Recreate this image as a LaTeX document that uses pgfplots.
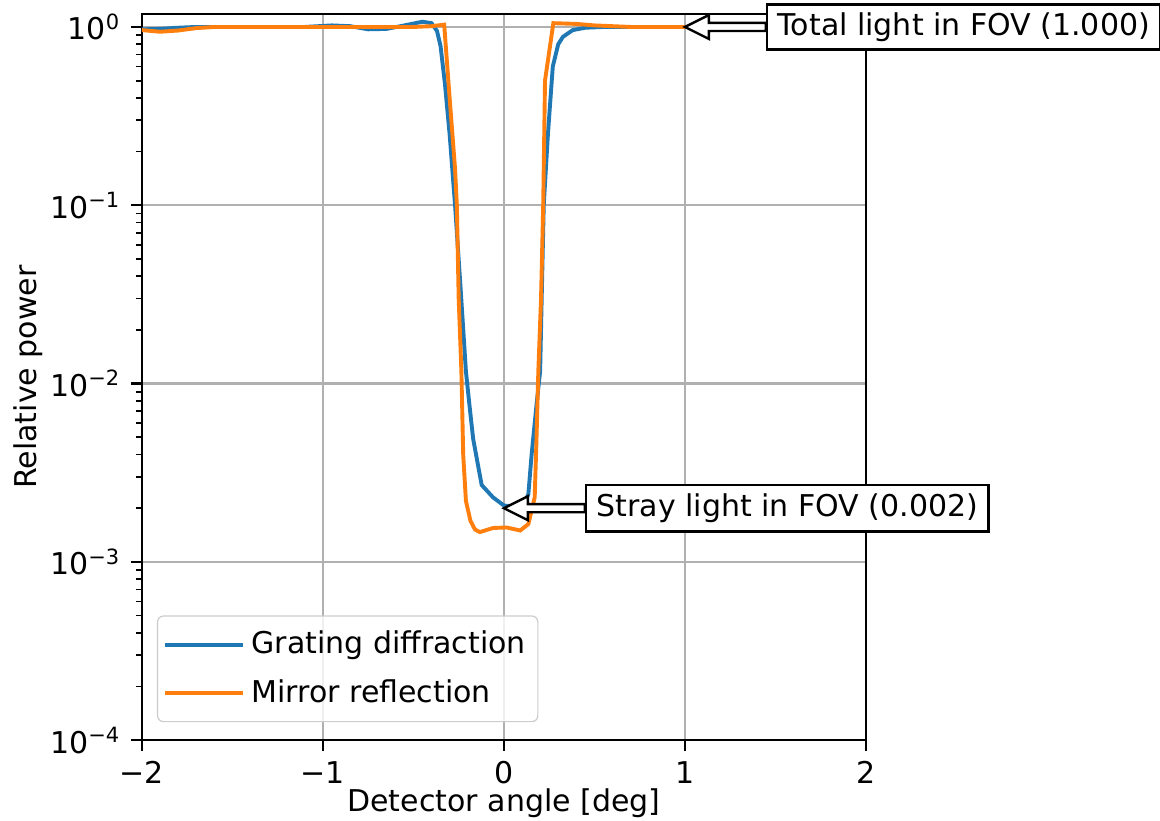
\documentclass[border=0pt]{standalone}
\usepackage{fontspec}
\setmainfont{DejaVu Sans}
\usepackage{pgfplots}
\pgfplotsset{compat=1.18}

\definecolor{mplblue}{HTML}{1F77B4}
\definecolor{mplorange}{HTML}{FF7F0E}
\definecolor{mplgrid}{HTML}{B0B0B0}
\definecolor{legedge}{HTML}{CCCCCC}

% white arrow with black outline, tip at #1, pointing left
\newcommand{\fovarrow}[1]{%
  \draw[fill=white, line width=0.8pt, line join=miter]
    (#1) -- ++(8pt,4pt) -- ++(0,-2.65pt) -- ++(19pt,0) -- ++(0,-2.7pt)
    -- ++(-19pt,0) -- ++(0,-2.65pt) -- cycle;}

\begin{document}
\begin{tikzpicture}
\path[use as bounding box] (-47.3pt,-26.7pt) rectangle (339.3pt,246.7pt);
\begin{axis}[
    scale only axis, width=241.3pt, height=242pt,
    ymode=log,
    xmin=-2, xmax=2, ymin=1e-4, ymax=1.18,
    xtick={-2,-1,0,1,2},
    xticklabels={−2,−1,0,1,2},
    ytick={1e-4,1e-3,1e-2,1e-1,1},
    yticklabels={10\textsuperscript{−4},10\textsuperscript{−3},10\textsuperscript{−2},10\textsuperscript{−1},10\textsuperscript{0}},
    minor ytick={2e-4,3e-4,4e-4,5e-4,6e-4,7e-4,8e-4,9e-4,
                 2e-3,3e-3,4e-3,5e-3,6e-3,7e-3,8e-3,9e-3,
                 2e-2,3e-2,4e-2,5e-2,6e-2,7e-2,8e-2,9e-2,
                 2e-1,3e-1,4e-1,5e-1,6e-1,7e-1,8e-1,9e-1},
    grid=major, major grid style={mplgrid, line width=0.8pt},
    tick align=outside, tick pos=left,
    major tick length=3.5pt, minor tick length=2pt,
    every tick/.style={black, line width=0.8pt},
    minor tick style={black, line width=0.6pt},
    axis line style={line width=0.8pt},
    clip=false,
    legend style={at={(0,0)}, anchor=south west, xshift=5pt, yshift=6pt,
      draw=legedge, rounded corners=2pt, fill=white, fill opacity=0.8,
      text opacity=1, inner xsep=2pt, inner ysep=3pt, row sep=3pt,
      cells={anchor=west}},
    legend image code/.code={\draw[#1] (0pt,0pt) -- (21pt,0pt);
      \path (0pt,0pt) -- (26pt,0pt);},
  ]
  \addplot[mplblue, line width=1.3pt] coordinates {
    (-2.00,0.97) (-1.90,0.975) (-1.80,0.99) (-1.70,1.0) (-1.50,1.0)
    (-1.30,1.0) (-1.10,1.0) (-0.95,1.02) (-0.85,1.01) (-0.75,0.97)
    (-0.65,0.975) (-0.55,1.02) (-0.45,1.07) (-0.40,1.05) (-0.37,0.95)
    (-0.35,0.78) (-0.326,0.48) (-0.30,0.25) (-0.27,0.1) (-0.24,0.035)
    (-0.21,0.0117) (-0.19,0.0075) (-0.17,0.0049) (-0.123,0.0027)
    (-0.06,0.0023) (0.0,0.00207) (0.06,0.00205) (0.11,0.0021)
    (0.135,0.0024) (0.153,0.004) (0.18,0.0076) (0.20,0.0117)
    (0.21,0.035) (0.22,0.1) (0.243,0.25) (0.27,0.6) (0.30,0.8)
    (0.326,0.88) (0.38,0.96) (0.45,0.99) (0.55,1.0) (0.8,1.0)
    (1.2,1.0) (1.6,1.0) (2.0,1.0)};
  \addlegendentry{Grating diffraction}
  \addplot[mplorange, line width=1.3pt] coordinates {
    (-2.00,0.96) (-1.90,0.94) (-1.80,0.955) (-1.70,0.985) (-1.60,1.0)
    (-1.20,1.0) (-0.80,1.0) (-0.50,1.0) (-0.40,1.01) (-0.33,1.03)
    (-0.30,0.4) (-0.27,0.16) (-0.26,0.1) (-0.25,0.03) (-0.235,0.0117)
    (-0.225,0.004) (-0.21,0.0022) (-0.185,0.0017) (-0.16,0.00152)
    (-0.133,0.00147) (-0.06,0.00155) (0.015,0.00156) (0.09,0.0015)
    (0.135,0.00163) (0.17,0.0023) (0.18,0.0049) (0.19,0.0117)
    (0.205,0.03) (0.217,0.1) (0.227,0.5) (0.273,1.05) (0.40,1.04)
    (0.50,1.02) (0.70,1.0) (1.0,1.0) (1.5,1.0) (2.0,1.0)};
  \addlegendentry{Mirror reflection}

  \coordinate (tipS) at (axis cs:0,0.002);
  \coordinate (tipT) at (axis cs:1,1);
\end{axis}
\fovarrow{tipS}
\node[draw, fill=white, line width=0.8pt, anchor=west, inner xsep=3.5pt,
  inner ysep=0pt, minimum height=15.5pt] at ([xshift=27pt]tipS)
  {Stray light in FOV (0.002)};
\fovarrow{tipT}
\node[draw, fill=white, line width=0.8pt, anchor=west, inner xsep=3.5pt,
  inner ysep=0pt, minimum height=15pt] at ([xshift=27pt]tipT)
  {Total light in FOV (1.000)};
\node[inner sep=1pt] at ([yshift=-21pt]current axis.south) {Detector angle [deg]};
\node[rotate=90] at ([xshift=-38pt]current axis.west) {Relative power};
\end{tikzpicture}
\end{document}
